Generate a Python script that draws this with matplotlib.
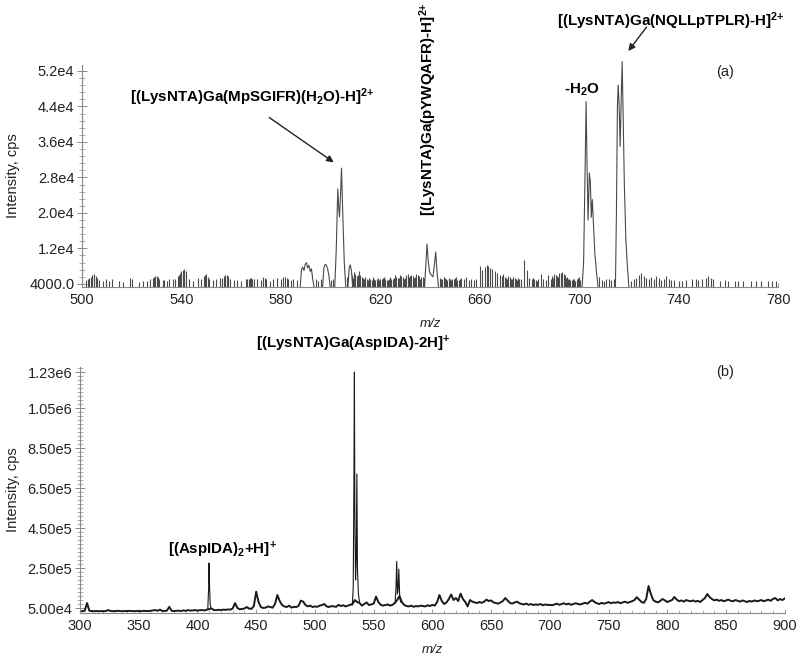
import numpy as np
import matplotlib
matplotlib.use("Agg")
import matplotlib.pyplot as plt
from matplotlib.ticker import FixedLocator, MultipleLocator

plt.rcParams['font.family'] = ['Liberation Sans', 'DejaVu Sans']
plt.rcParams['mathtext.fontset'] = 'custom'
plt.rcParams['mathtext.rm'] = 'Liberation Sans'
plt.rcParams['mathtext.bf'] = 'Liberation Sans:bold'
plt.rcParams['mathtext.it'] = 'Liberation Sans:italic'

# ---- panel (a): LC-MS zoom 500-780 ----
# baseline noise sticks (m/z, cps)
noise_a_mz = [501.5, 502.5, 503.5, 504.2, 505, 506, 507, 508.5, 509.5, 511, 512,
              515, 516.5, 519.5, 520.3, 523, 524.5, 526, 527.5, 528.5, 529.3, 530,
              531, 532.5, 534, 535, 536.5, 537.5, 538.5, 539.5, 540.5, 541.2, 542,
              543, 544.5, 546.5, 548, 549, 550, 551, 552.5, 554, 555.5, 556.5,
              557.5, 558.3, 559.5, 561, 562.5, 564, 566, 567, 568, 569, 570.5, 572,
              573, 574, 575.5, 577, 578.5, 580, 581, 582.5, 584, 585, 586.5,
              594, 595, 596, 600, 601, 606.5, 608.5, 609.5, 610.5, 611.5, 612.5,
              613.5, 614.5, 615.5, 616.5, 617.5, 618.5, 619.5, 620.5, 621.5, 622.5,
              623.5, 624.5, 625.5, 626.5, 627.5, 628.5, 629.5, 630.5, 631.5, 632.5,
              633.5, 634.5, 635.5, 636.5, 637.5, 644, 645, 646, 647, 648, 649, 650,
              651, 652, 653.5, 654.5, 655.5, 656.5, 657.5, 658.5, 660, 661, 662,
              662.8, 663.5, 664.3, 665, 666, 667, 668, 669, 670, 671, 672, 673, 674,
              675, 676, 677.8, 679, 680, 681, 682, 683, 684.5, 685.5, 686.5, 687.5,
              688.5, 689.5, 690.5, 691.5, 692.5, 693, 693.8, 694.7, 695.5, 696.5,
              697.5, 698.5, 699.5, 700.5, 708, 709, 710, 711, 712, 713, 714, 721,
              722, 723, 724, 725, 726, 727, 728, 729, 730, 731, 732, 733, 734, 735,
              736, 737, 738, 740, 741.5, 743, 745.5, 747, 748, 749.5, 751, 752, 753,
              754, 756.5, 758.5, 760, 762.5, 764, 766, 769, 771, 773, 776, 777.5, 779,
              503, 504.7, 505.5, 529, 530.5, 533, 539, 540, 541.7, 549.5, 550.5, 557,
              558.8, 566.5, 567.5, 568.5, 573.5, 581.5, 583,
              609, 610, 611, 612, 613, 614, 615, 616, 617, 618, 619, 620, 621, 622,
              623, 624, 625, 626, 627, 628, 629, 630, 631, 632, 633, 634, 635, 636, 637,
              644.5, 645.5, 646.5, 647.5, 648.5, 649.5, 650.5, 651.5, 652.5,
              669.5, 670.5, 671.5, 672.5, 673.5, 674.5, 675.5, 676.5,
              681.5, 682.5, 683.5, 689, 690, 691, 692, 694.2, 695, 696, 697, 698, 699, 700]
noise_a_int = [4800, 5200, 5600, 6000, 6200, 5400, 4900, 4600, 5000, 4700, 5100,
               4600, 4400, 5300, 5000, 4500, 4700, 4600, 5000, 5400, 5800, 5700,
               5200, 4800, 4700, 5000, 5100, 5000, 5800, 6400, 7200, 7400, 6600,
               5200, 4700, 5300, 5000, 5800, 6200, 5000, 4800, 5100, 5300, 5400,
               5900, 6100, 5200, 4800, 4900, 4600, 5200, 5000, 5400, 5100, 5200, 4900,
               5500, 5200, 4700, 5100, 5300, 5000, 5600, 5400, 4900, 5200, 4800,
               5200, 4700, 5000, 4800, 5000, 5600, 6000, 6600, 5800, 6800, 5600,
               5200, 5000, 5300, 4800, 5000, 5200, 4900, 5100, 5600, 4800,
               5200, 5000, 5300, 5600, 5400, 5800, 5200, 5900, 5500, 6000,
               5400, 6200, 5800, 5600, 5300, 5400, 5000, 5300, 4900, 5200, 5000, 5300,
               4800, 5200, 5000, 5600, 4900, 5100, 4800, 5000, 8000, 7200, 7800,
               8300, 8100, 7600, 7400, 6800, 6400, 6000, 5800, 5600, 5200, 5500, 5000, 5300,
               4900, 5200, 9400, 7200, 5400, 5000, 5200, 4700, 6300, 5200, 4900, 6100,
               5200, 5400, 6000, 5600, 6400, 6700, 6200, 5400, 5000, 4800,
               5000, 4700, 5300, 4900, 5600, 4900, 4700, 5000, 5200, 4800, 5000, 4700,
               5100, 5300, 5900, 6400, 5700, 5400, 5200, 5500, 5100, 5700, 5300, 4900, 5000, 5800,
               5100, 4800, 4900, 4700, 4600, 4900, 5000, 5200, 4800, 5100, 5300, 5700, 5400,
               5000, 4700, 4800, 4700, 4600, 4700, 4700, 4600, 4700, 4600, 4600, 4700, 4700,
               5400, 6100, 5800, 5600, 5500, 4900, 6000, 6900, 7000, 6000, 5600, 5700,
               5800, 5100, 5300, 5000, 5300, 5500, 5100,
               5400, 6200, 6000, 5900, 5400, 5600, 4900, 5200, 5500, 4800, 5300, 5000, 5400, 5100,
               4900, 5500, 5200, 5900, 5300, 6100, 5600, 5400, 6200, 5800, 5700, 5500, 6000, 5200, 5600,
               5000, 5600, 5100, 5400, 4800, 5200, 5500, 4900, 5300,
               6200, 5400, 5800, 5100, 5600, 5000, 5400, 5100,
               5300, 4900, 5100, 5800, 6200, 5700, 6500, 6000, 5600, 5200, 4900, 5100, 5000, 5600]

# peak profiles in (a)
pk_a = [
    ([587.8, 588.3, 588.8, 589.3, 589.8, 590.3, 590.8, 591.3, 591.8, 592.3, 592.8, 593.3],
     [3400, 7200, 7800, 7000, 8400, 8800, 7600, 8200, 6800, 7400, 5200, 3400]),
    ([596.8, 597.3, 597.8, 598.3, 598.8, 599.3, 599.8],
     [3400, 7600, 8400, 8200, 7400, 6000, 3400]),
    ([601.7, 602.3, 602.9, 603.3, 603.6, 604.0, 604.4, 604.9, 605.5, 606.1],
     [3400, 12000, 25400, 21000, 19100, 24000, 30100, 20000, 9000, 3400]),
    ([607.0, 607.5, 607.9, 608.4, 608.9],
     [3400, 7600, 8300, 7000, 3400]),
    ([637.8, 638.4, 638.8, 639.3, 639.9, 640.5, 641.2, 641.8, 642.3, 642.8, 643.4],
     [3400, 9000, 13000, 9000, 6500, 6000, 5600, 8500, 11200, 7000, 3400]),
    ([701.2, 701.8, 702.4, 702.8, 703.2, 703.6, 704.1, 704.5, 704.9, 705.3, 705.8, 706.3, 706.9, 707.6],
     [3400, 9000, 30000, 45100, 30000, 18400, 29000, 27000, 19000, 23000, 17000, 11000, 7000, 3400]),
    ([714.6, 715.0, 715.4, 715.7, 716.1, 716.5, 716.9, 717.3, 717.7, 718.2, 718.8, 719.4, 720.0],
     [3400, 20000, 44000, 48800, 44000, 35000, 45000, 54100, 42000, 26000, 14000, 8000, 3400]),
]

# ---- panel (b): full scan 300-900, intensities in kcps on a 2 m/z grid ----
grid_b = np.arange(300, 901, 2)
base_b = [35, 34, 36, 75, 36, 35, 34, 35, 34, 35, 34, 35, 40, 35, 34, 35, 36, 35, 34, 35, 35, 36, 35, 34, 35,
          35, 34, 36, 35, 35, 36, 38, 40, 36, 42, 36, 35, 37, 56, 36, 35, 36, 37, 35, 38, 36, 40, 37, 38, 40,
          37, 39, 40, 38, 42, 45, 48, 40, 39, 41, 40, 42, 41, 43, 42, 48, 75, 50, 44, 45, 48, 55, 47, 46, 60,
          132, 80, 55, 50, 52, 58, 55, 52, 70, 115, 85, 65, 58, 55, 62, 52, 56, 55, 60, 87, 82, 65, 58, 62, 55,
          58, 56, 62, 65, 70, 58, 55, 60, 58, 56, 66, 60, 64, 58, 62, 66, 70, 90, 80, 75, 62, 70, 78, 65, 68,
          72, 107, 80, 66, 62, 65, 68, 62, 66, 75, 90, 110, 80, 65, 60, 58, 62, 56, 60, 58, 62, 60, 58, 64, 60,
          66, 62, 80, 115, 85, 70, 78, 95, 118, 90, 100, 85, 122, 95, 80, 58, 90, 82, 78, 75, 80, 76, 82, 92, 85,
          88, 78, 75, 72, 78, 85, 100, 88, 76, 72, 78, 82, 74, 70, 68, 72, 66, 70, 65, 68, 66, 70, 64, 68, 65,
          66, 64, 68, 72, 66, 70, 74, 68, 72, 66, 70, 74, 70, 68, 72, 76, 72, 82, 90, 80, 74, 70, 76, 72, 75,
          80, 74, 78, 76, 80, 74, 78, 82, 76, 80, 84, 90, 104, 92, 80, 76, 95, 160, 120, 90, 82, 78, 86, 95, 88,
          80, 85, 90, 105, 92, 84, 88, 82, 90, 86, 84, 88, 82, 86, 80, 90, 100, 120, 105, 95, 88, 92, 86, 90, 84,
          88, 92, 86, 84, 90, 86, 82, 88, 84, 80, 86, 82, 88, 84, 86, 90, 84, 88, 92, 86, 96, 100, 88, 95, 90, 98]

pk_b = [
    ([408.8, 409.5, 409.8, 410.2, 410.8, 411.5], [45, 150, 275, 180, 70, 48]),
    ([531.8, 532.6, 533.2, 533.6, 534.0, 534.6, 535.2, 535.7, 536.2, 537.0, 538.0],
     [65, 150, 700, 1230, 500, 190, 300, 720, 250, 120, 80]),
    ([568.2, 569.0, 569.6, 570.2, 570.8, 571.4, 572.2, 573.0],
     [75, 150, 283, 120, 140, 245, 100, 80]),
]

fig = plt.figure(figsize=(8, 6.56), dpi=100)
ax1 = fig.add_axes([0.1025, 0.5625, 0.87, 0.3385])
ax2 = fig.add_axes([0.1, 0.0655, 0.881, 0.375])

axcol = '#8a8a8a'
txtcol = '#222222'
fs = 10.5

# panel a
ax1.vlines(noise_a_mz, 3300, noise_a_int, color='#4a4a4a', lw=0.8)
for mz, it in pk_a:
    ax1.plot(mz, it, color='#4a4a4a', lw=0.8, clip_on=False)
ax1.set_xlim(500, 780)
ax1.set_ylim(3300, 53350)
ax1.xaxis.set_major_locator(FixedLocator(np.arange(500, 781, 40)))
ax1.yaxis.set_major_locator(FixedLocator([4000, 12000, 20000, 28000, 36000, 44000, 52000]))
ax1.set_yticklabels(['4000.0', '1.2e4', '2.0e4', '2.8e4', '3.6e4', '4.4e4', '5.2e4'])
ax1.yaxis.set_minor_locator(FixedLocator(np.arange(4000, 53350, 1600)))
ax1.set_xlabel('m/z', style='italic', fontsize=9.5, color=txtcol, labelpad=8)
ax1.yaxis.set_label_coords(-0.089, 0.5)

# panel b
ax2.plot(grid_b, np.array(base_b) * 1e3, color='#1a1a1a', lw=1.4)
for mz, it in pk_b:
    ax2.plot(mz, np.array(it) * 1e3, color='#1a1a1a', lw=0.8, clip_on=False)
ax2.set_xlim(300, 900)
ax2.set_ylim(25000, 1.255e6)
ax2.xaxis.set_major_locator(MultipleLocator(50))
ax2.xaxis.set_minor_locator(MultipleLocator(10))
ax2.yaxis.set_major_locator(FixedLocator([5e4, 2.5e5, 4.5e5, 6.5e5, 8.5e5, 1.05e6, 1.23e6]))
ax2.set_yticklabels(['5.00e4', '2.50e5', '4.50e5', '6.50e5', '8.50e5', '1.05e6', '1.23e6'])
ax2.yaxis.set_minor_locator(FixedLocator(np.arange(5e4, 1.255e6, 2e4)))
ax2.set_xlabel('m/z', style='italic', fontsize=9.5, color=txtcol, labelpad=8)
ax2.yaxis.set_label_coords(-0.085, 0.5)

for ax in (ax1, ax2):
    ax.spines['top'].set_visible(False)
    ax.spines['right'].set_visible(False)
    ax.spines['left'].set_color(axcol)
    ax.spines['bottom'].set_color(axcol)
    ax.spines['left'].set_linewidth(0.8)
    ax.spines['bottom'].set_linewidth(0.8)
    ax.tick_params(axis='y', which='major', direction='inout', length=7, width=0.7,
                   color=axcol, labelsize=fs, labelcolor=txtcol, pad=2)
    ax.tick_params(axis='y', which='minor', direction='inout', length=4, width=0.5, color=axcol)
    ax.tick_params(axis='x', which='major', direction='in', length=3, width=0.6,
                   color=axcol, labelsize=fs, labelcolor=txtcol, pad=4)
    ax.tick_params(axis='x', which='minor', direction='in', length=2, width=0.5, color=axcol)
    ax.set_ylabel('Intensity, cps', fontsize=fs, color=txtcol)

# annotations panel a
bold = dict(fontweight='bold', fontsize=10.9, color='black')
sup2p = r'$^{\mathbf{2}{\mathbf{+}}}$'
ax1.text(568.4, 46140, r'[(LysNTA)Ga(MpSGIFR)(H$_\mathbf{2}$O)-H]' + sup2p,
         ha='center', va='center', **bold)
ax1.annotate('', xy=(602.2, 31040), xytext=(574.4, 41860),
             arrowprops=dict(arrowstyle='-|>', color='#222222', lw=1.0, mutation_scale=10))
ax1.text(639.2, 19300, '[(LysNTA)Ga(pYWQAFR)-H]' + sup2p, rotation=90,
         ha='center', va='bottom', clip_on=False, **bold)
ax1.text(736.9, 63100, '[(LysNTA)Ga(NQLLpTPLR)-H]' + sup2p,
         ha='center', va='center', clip_on=False, **bold)
ax1.annotate('', xy=(719.1, 56000), xytext=(727.8, 62370), annotation_clip=False,
             arrowprops=dict(arrowstyle='-|>', color='#222222', lw=1.0, mutation_scale=10))
ax1.text(701.0, 47700, r'-H$_\mathbf{2}$O', ha='center', va='center', **bold)
ax1.text(758.7, 51800, '(a)', ha='center', va='center', fontsize=fs, color=txtcol)

# annotations panel b
ax2.text(532.8, 1.373e6, r'[(LysNTA)Ga(AspIDA)-2H]$^{\mathbf{+}}$', ha='center', va='center',
         clip_on=False, **bold)
ax2.text(420.9, 3.42e5, r'[(AspIDA)$_\mathbf{2}$+H]$^{\mathbf{+}}$', ha='center', va='center', **bold)
ax2.text(848.9, 1.23e6, '(b)', ha='center', va='center', fontsize=fs, color=txtcol)

fig.savefig('out.png', dpi=100)
